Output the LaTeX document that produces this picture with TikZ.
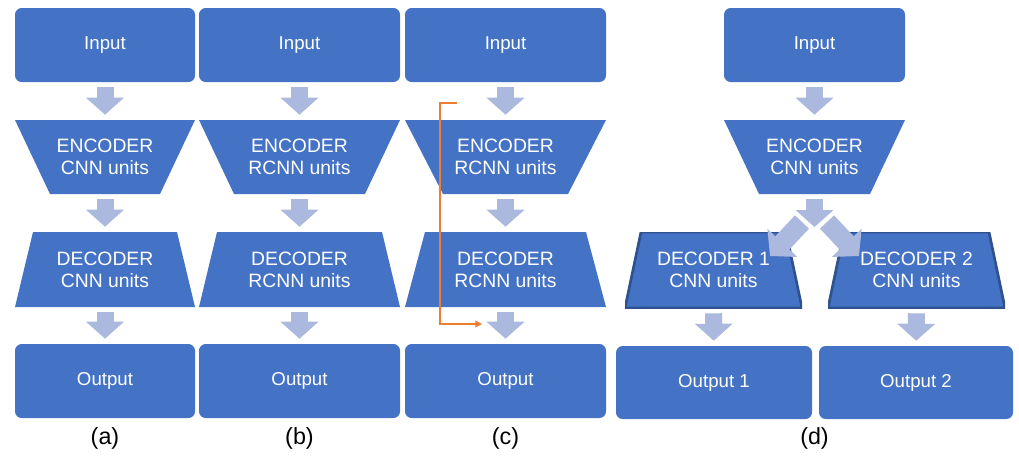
\documentclass[tikz,border=0pt]{standalone}
\usepackage{fontspec}
\setmainfont{Liberation Sans}
\usetikzlibrary{arrows.meta,positioning}

\definecolor{boxblue}{HTML}{4472C4}
\definecolor{flowblue}{HTML}{ABB9DE}
\definecolor{skiporange}{HTML}{ED7D31}
\definecolor{edgeblue}{HTML}{2F528F}

\begin{document}
\begin{tikzpicture}[
    x=0.75pt, y=-0.75pt,
    font=\fontsize{14}{16.5}\selectfont, text=white,
    io/.style={fill=boxblue,rounded corners=5pt,align=center,minimum height=55.5pt},
    trapfill/.style={fill=boxblue},
    enc/.style={align=center,minimum height=55.5pt,font=\fontsize{14.5}{16.5}\selectfont,
        path picture={\path[trapfill] (path picture bounding box.north west)
            -- (path picture bounding box.north east)
            -- ([xshift=-#1]path picture bounding box.south east)
            -- ([xshift=#1]path picture bounding box.south west) -- cycle;}},
    enc/.default=26.25pt,
    dec/.style={align=center,minimum height=55.5pt,font=\fontsize{14.5}{16.5}\selectfont,
        path picture={\path[trapfill] ([xshift=#1]path picture bounding box.north west)
            -- ([xshift=-#1]path picture bounding box.north east)
            -- (path picture bounding box.south east)
            -- (path picture bounding box.south west) -- cycle;}},
    dec/.default=13.5pt,
    flow/.style={flowblue,line width=12.75pt,-{Triangle[length=12.75pt,width=27.75pt]},
        shorten <=3.75pt,shorten >=3.75pt},
    branch/.style={flowblue,line width=14.5pt,-{Triangle[length=13.5pt,width=30pt]}},
    skip/.style={skiporange,line width=1.5pt,-{Triangle[length=5pt,width=5pt]}},
    caption/.style={text=black,font=\fontsize{17.5}{20}\selectfont}
]
\path[use as bounding box] (0,0) rectangle (1019,455);

\foreach \x/\bw/\i/\kind/\ins/\dins in {105/135pt/1/CNN/26.25pt/13.5pt,
        299.5/150.75pt/2/RCNN/26.25pt/13.5pt,505.5/150.75pt/3/RCNN/28.5pt/15pt} {
    \node[io,minimum width=\bw] (in\i) at (\x,45) {Input};
    \node[enc=\ins,minimum width=\bw] (enc\i) at (\x,157) {ENCODER\\\kind\ units};
    \node[dec=\dins,minimum width=\bw,minimum height=56.25pt] (dec\i) at (\x,269.5) {DECODER\\\kind\ units};
    \node[io,minimum width=\bw] (out\i) at (\x,381) {Output};
    \draw[flow] (in\i) -- (enc\i);
    \draw[flow] (enc\i) -- (dec\i);
    \draw[flow] (dec\i) -- (out\i);
}
\node[caption] (capa) at (105,438) {(a)};
\node[caption] (capb) at (299.5,438) {(b)};
\node[caption] (capc) at (505.5,438) {(c)};

% skip connection around the encoder-decoder pair
\coordinate (skipin) at (457,103);
\coordinate (skipout) at (482,324);
\draw[skip] (skipin) -- ++(-17,0) |- (skipout);

% two decoders share one encoder
\node[io,minimum width=135.75pt] (in4) at (814.5,45) {Input};
\node[enc,minimum width=135.75pt] (enc4) at (814.5,157) {ENCODER\\CNN units};
\foreach \x/\i in {713.5/5,916.5/6} {
    \node[dec=12pt,minimum width=132.75pt,minimum height=57pt,
        trapfill/.style={fill=boxblue,draw=edgeblue,line width=2pt}]
        (dec\i) at (\x,270) {DECODER \the\numexpr\i-4\relax\\CNN units};
}
\node[io,minimum width=147pt,minimum height=54.75pt] (out5) at (714,382.5) {Output 1};
\node[io,minimum width=145.5pt,minimum height=54.75pt] (out6) at (916,382.5) {Output 2};
\node[caption] (capd) at (814.5,438) {(d)};

\draw[flow] (in4) -- (enc4);
\coordinate (fork) at (814.5,232);
\draw[flow] (enc4) -- (fork);
\coordinate (forkl) at (802,222);
\coordinate (forkr) at (827,222);
\coordinate (tipl) at (770,256);
\coordinate (tipr) at (859,256);
\draw[branch] (forkl) -- (tipl);
\draw[branch] (forkr) -- (tipr);
\draw[flow] (dec5) -- (out5);
\draw[flow] (dec6) -- (out6);
\end{tikzpicture}
\end{document}
